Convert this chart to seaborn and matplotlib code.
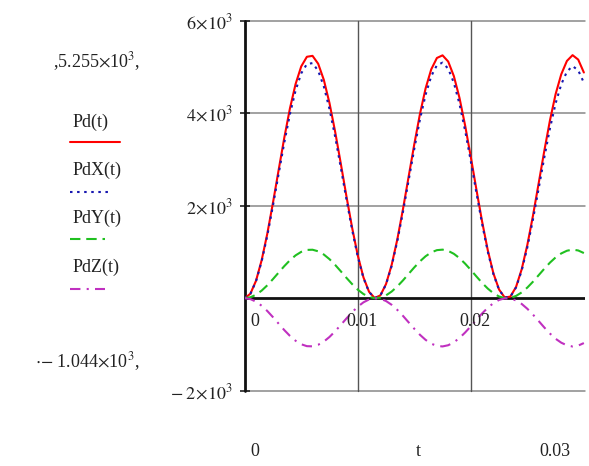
import matplotlib
matplotlib.use("Agg")
import matplotlib.pyplot as plt
from matplotlib.lines import Line2D
import seaborn as sns
import pandas as pd

# ---- data ----
t = [0.0, 0.0005, 0.001, 0.0015, 0.002, 0.0025, 0.003, 0.0035, 0.004, 0.0045,
     0.005, 0.0055, 0.006, 0.0065, 0.007, 0.0075, 0.008, 0.0085, 0.009, 0.0095,
     0.010, 0.0105, 0.011, 0.0115, 0.012, 0.0125, 0.013, 0.0135, 0.014, 0.0145,
     0.015, 0.0155, 0.016, 0.0165, 0.017, 0.0175, 0.018, 0.0185, 0.019, 0.0195,
     0.020, 0.0205, 0.021, 0.0215, 0.022, 0.0225, 0.023, 0.0235, 0.024, 0.0245,
     0.025, 0.0255, 0.026, 0.0265, 0.027, 0.0275, 0.028, 0.0285, 0.029, 0.0295,
     0.030]
Pd = [0, 96, 376, 821, 1396, 2063, 2769, 3467, 4102, 4630, 5012, 5220, 5240, 5069,
      4720, 4218, 3600, 2911, 2202, 1526, 927, 453, 138, 4, 61, 306, 720, 1273, 1925,
      2628, 3328, 3982, 4536, 4949, 5194, 5251, 5117, 4802, 4329, 3731, 3053, 2343,
      1656, 1038, 536, 187, 15, 35, 243, 625, 1152, 1787, 2483, 3185, 3844, 4412,
      4842, 5130, 5255, 5159, 4880]
PdX = [0, 93, 365, 796, 1354, 2001, 2686, 3363, 3979, 4491, 4862, 5063, 5083, 4917,
       4578, 4091, 3492, 2824, 2136, 1480, 899, 439, 134, 4, 59, 297, 698, 1235, 1867,
       2549, 3228, 3863, 4400, 4801, 5038, 5093, 4963, 4658, 4199, 3619, 2961, 2273,
       1606, 1007, 520, 181, 15, 33, 232, 597, 1100, 1707, 2371, 3042, 3671, 4213,
       4624, 4899, 5019, 4927, 4660]
PdY = [0, 19, 75, 164, 279, 413, 554, 693, 820, 926, 1002, 1044, 1048, 1014, 944,
       844, 720, 582, 440, 305, 185, 91, 28, 1, 12, 61, 144, 255, 385, 526, 666, 796,
       907, 990, 1039, 1050, 1023, 960, 866, 746, 611, 469, 331, 208, 107, 37, 3, 7,
       49, 125, 230, 357, 497, 637, 769, 882, 968, 1026, 1051, 1032, 976]
PdZ = [0, -19, -75, -163, -277, -410, -550, -689, -815, -920, -996, -1037, -1041,
       -1007, -938, -838, -715, -578, -438, -303, -184, -90, -27, -1, -12, -61, -143,
       -253, -382, -522, -661, -791, -901, -983, -1032, -1043, -1017, -954, -860, -741,
       -607, -466, -329, -206, -107, -37, -3, -7, -48, -124, -229, -355, -493, -633,
       -764, -877, -962, -1019, -1044, -1025, -970]
series_names = ["Pd(t)", "PdX(t)", "PdY(t)", "PdZ(t)"]
y_ticks = [-2000, 2000, 4000, 6000]
y_tick_labels = [r"$-\;2\!\times\!10^{3}$", r"$2\!\times\!10^{3}$",
                 r"$4\!\times\!10^{3}$", r"$6\!\times\!10^{3}$"]
x_ticks = [0, 0.01, 0.02]
x_tick_labels = ["0", "0.01", "0.02"]
x_min_label, x_max_label, x_name = "0", "0.03", "t"
y_max_label = r",5.255$\times$10$^{3}$,"
y_min_label = r"$\cdot$$-$ 1.044$\times$10$^{3}$,"

colors = {"Pd(t)": "#ff0000", "PdX(t)": "#1818b0", "PdY(t)": "#20c020", "PdZ(t)": "#c030c0"}
dashes = {"Pd(t)": "", "PdX(t)": (1.2, 2.2), "PdY(t)": (5, 2.8), "PdZ(t)": (5, 3, 1, 3)}

df = pd.concat([
    pd.DataFrame({"t": t, "value": vals, "series": name})
    for name, vals in zip(series_names, [Pd, PdX, PdY, PdZ])
], ignore_index=True)

sns.set_style("white")
plt.rcParams["font.family"] = ["Liberation Serif", "DejaVu Serif"]
plt.rcParams["mathtext.fontset"] = "stix"
FS = 13

W, H = 589, 466
fig = plt.figure(figsize=(W / 100, H / 100), dpi=100)
ax = fig.add_axes([244.7 / W, 1 - 390.7 / H, (585 - 244.7) / W, (390.7 - 20.7) / H])

sns.lineplot(data=df, x="t", y="value", hue="series", style="series",
             hue_order=series_names, style_order=series_names,
             palette=colors, dashes=dashes, linewidth=1.5,
             estimator=None, sort=False, legend=False, ax=ax)

ax.set_xlim(0, 0.0301)
ax.set_ylim(-2000, 6000)
for s in ax.spines.values():
    s.set_visible(False)

# grid
for yv in y_ticks:
    ax.axhline(yv, color="#888888", lw=1.1, zorder=0, clip_on=False)
for xv in x_ticks[1:]:
    ax.axvline(xv, color="#555555", lw=1.0, zorder=0, clip_on=False)
ax.axhline(0, color="#111111", lw=2.0, zorder=1)
ax.axvline(0, color="#111111", lw=2.0, zorder=1, clip_on=False)

ax.set_xticks([])
ax.set_yticks(y_ticks)
ax.set_yticklabels(y_tick_labels, fontsize=FS)
ax.tick_params(axis="y", left=True, length=7, width=1.2, direction="inout",
               pad=5, colors="#222222")
ax.set_xlabel("")
ax.set_ylabel("")

# x tick labels just under the zero line
offs = [10, 4, 4]
for xv, lab, o in zip(x_ticks, x_tick_labels, offs):
    ax.annotate(lab, xy=(xv, 0), xytext=(o * 0.72, -17), textcoords="offset points",
                ha="center", va="center", fontsize=FS, color="#222222")

def ftext(x, y, s, ha="center", **kw):
    fig.text(x / W, 1 - y / H, s, ha=ha, va="center", fontsize=FS, color="#222222", **kw)

ftext(255, 452, x_min_label)
ftext(418, 452, x_name)
ftext(555, 452, x_max_label)
ftext(140, 62, y_max_label, ha="right")
ftext(140, 362, y_min_label, ha="right")

# legend on the left
leg_y = [122, 170, 218, 267]
line_y = [142, 192, 239, 289]
line_x1 = [120, 112, 105, 105]
ls = {"Pd(t)": "-", "PdX(t)": (0, (1.2, 2.2)), "PdY(t)": (0, (5, 2.8)),
      "PdZ(t)": (0, (5, 3, 1, 3))}
for name, ty, ly, x1 in zip(series_names, leg_y, line_y, line_x1):
    ftext(73, ty, name, ha="left")
    fig.add_artist(Line2D([70 / W, x1 / W], [1 - ly / H, 1 - ly / H],
                          color=colors[name], lw=1.5, linestyle=ls[name],
                          transform=fig.transFigure))

fig.savefig("out.png", dpi=100)
